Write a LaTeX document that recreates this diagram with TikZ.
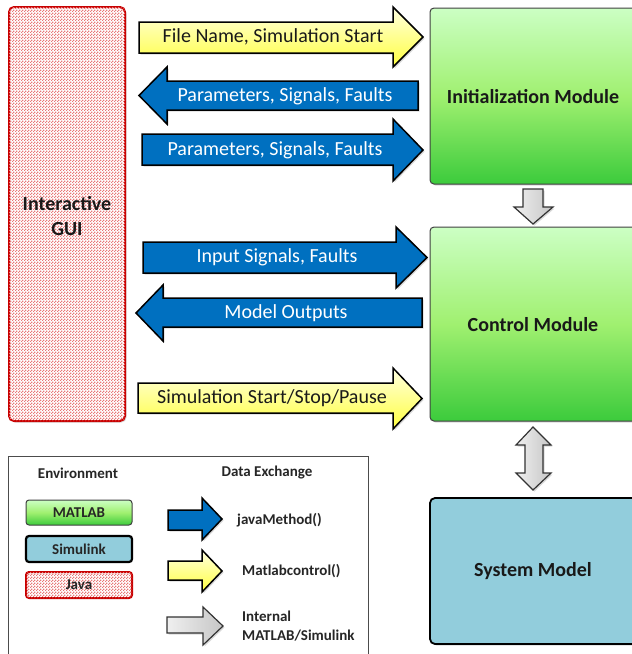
\documentclass[tikz,border=0pt]{standalone}
\usepackage{fontspec}
\setmainfont{Carlito}
\usetikzlibrary{patterns,shadows}
\definecolor{arrblue}{RGB}{0,112,192}
\definecolor{simblue}{RGB}{146,205,220}
\definecolor{gtop}{RGB}{204,255,196}
\definecolor{gmid}{RGB}{160,240,112}
\definecolor{gbot}{RGB}{60,203,60}
\definecolor{javared}{RGB}{200,0,0}
\definecolor{checkred}{RGB}{232,120,120}
\pgfdeclarepatternformonly{finecheck}{\pgfpointorigin}{\pgfqpoint{3pt}{3pt}}{\pgfqpoint{3pt}{3pt}}{%
  \pgfpathrectangle{\pgfpointorigin}{\pgfqpoint{1.5pt}{1.5pt}}%
  \pgfpathrectangle{\pgfqpoint{1.5pt}{1.5pt}}{\pgfqpoint{1.5pt}{1.5pt}}%
  \pgfusepath{fill}}
\newcommand\myrarrow[8]{% style, xl, xh, xt, bt, bb, ht, hb
  \path[#1] (#2,#5) -- (#3,#5) -- (#3,#7) -- (#4,{(#7+#8)/2}) -- (#3,#8) -- (#3,#6) -- (#2,#6) -- cycle;}
\newcommand\mylarrow[8]{% style, xt, xh, xr, bt, bb, ht, hb
  \path[#1] (#4,#5) -- (#3,#5) -- (#3,#7) -- (#2,{(#7+#8)/2}) -- (#3,#8) -- (#3,#6) -- (#4,#6) -- cycle;}
\begin{document}
\begin{tikzpicture}[x=1pt,y=-1pt,
  shad/.style={drop shadow={opacity=0.3,shadow xshift=1.5pt,shadow yshift=-1.5pt}},
  bluearr/.style={shad,fill=arrblue,draw=black,line width=1.5pt,line join=miter},
  yelarr/.style={shad,top color=yellow!12,bottom color=yellow!75,draw=black,line width=1.5pt,line join=miter},
  grayarr/.style={shad,left color=gray!12,right color=gray!45,draw=black!80,line width=1.2pt,line join=miter},
  wlbl/.style={text=white,font=\fontsize{20}{24}\selectfont,inner sep=0pt},
  blbl/.style={text=black!90,font=\fontsize{20}{24}\selectfont,inner sep=0pt},
  modlbl/.style={text=black!90,font=\bfseries\fontsize{20}{25}\selectfont,inner sep=0pt,align=center},
  leglbl/.style={text=black!85,font=\bfseries\fontsize{15}{19}\selectfont,inner sep=0pt,align=left},
  module/.style={shad,draw=black!75,line width=1pt,rounded corners=4pt,top color=gtop,bottom color=gbot,middle color=gmid},
  checkfill/.style={fill=white,postaction={pattern=finecheck,pattern color=checkred}},
  gui/.style={shad,draw=javared,line width=2pt,rounded corners=5pt,checkfill},
]
\useasboundingbox (0,0) rectangle (632,654);
\clip (0,0) rectangle (632,654);

% GUI
\path[gui] (9,7) rectangle (125,421);
\node[modlbl] (guilbl) at (67,216) {Interactive\\GUI};

% Modules
\path[module] (430,8) rectangle (640,184);
\node[modlbl] (init) at (533,97) {Initialization Module};
\path[module] (430,227) rectangle (640,421);
\node[modlbl] (ctrl) at (533,325) {Control Module};
\path[shad,draw=black,line width=1.8pt,rounded corners=5pt,fill=simblue] (430,498) rectangle (640,644);
\node[modlbl] (sys) at (533,571) {System Model};

% Big arrows
\myrarrow{yelarr}{139}{393}{423}{22}{53}{7}{67}
\node[blbl] (a1) at (273,37) {File Name, Simulation Start};
\mylarrow{bluearr}{139}{167}{418}{81}{110}{67}{124}
\node[wlbl] (a2) at (285,96) {Parameters, Signals, Faults};
\myrarrow{bluearr}{142}{393}{423}{134}{165}{119}{181}
\node[wlbl] (a3) at (275,150) {Parameters, Signals, Faults};
\myrarrow{bluearr}{143}{396}{427}{242}{273}{227}{288}
\node[wlbl] (a4) at (277,257) {Input Signals, Faults};
\mylarrow{bluearr}{136}{163}{422}{298}{327}{285}{341}
\node[wlbl] (a5) at (286,313) {Model Outputs};
\myrarrow{yelarr}{138}{393}{422}{383}{413}{368}{429}
\node[blbl] (a6) at (272,398) {Simulation Start/Stop/Pause};

% Gray vertical arrows
\path[grayarr] (523,189) -- (543,189) -- (543,207) -- (553,207) -- (533,224) -- (514,207) -- (523,207) -- cycle;
\path[grayarr] (533,427) -- (551,445) -- (543,445) -- (543,473) -- (551,473) -- (533,490) -- (516,473) -- (525,473) -- (525,445) -- (516,445) -- cycle;

% Legend
\path[draw=black!70,line width=1pt,fill=white] (8,456) rectangle (368,664);
\node[leglbl] (env) at (78,473) {Environment};
\node[leglbl] (dex) at (267,473) {Data Exchange};
\path[draw=black!75,line width=1pt,rounded corners=3pt,top color=gtop,bottom color=gbot,middle color=gmid] (26,500) rectangle (132,525);
\node[leglbl] (lm) at (79,512.5) {MATLAB};
\path[draw=black,line width=2.2pt,rounded corners=3pt,fill=simblue] (26,536) rectangle (132,562);
\node[leglbl] (ls) at (79,549) {Simulink};
\path[draw=javared,line width=2pt,rounded corners=3pt,checkfill] (26,572) rectangle (132,598);
\node[leglbl] (lj) at (79,585) {Java};
\myrarrow{bluearr}{168}{202}{222}{510}{530}{498}{540}
\node[leglbl,anchor=west] (ljm) at (237,520) {javaMethod()};
\myrarrow{yelarr}{168}{202}{222}{561}{580}{550}{592}
\node[leglbl,anchor=west] (lmc) at (242,571) {Matlabcontrol()};
\myrarrow{grayarr}{167}{203}{223}{617}{633}{607}{645}
\node[leglbl,anchor=west] (lin) at (242,626.5) {Internal\\MATLAB/Simulink};
\end{tikzpicture}
\end{document}
